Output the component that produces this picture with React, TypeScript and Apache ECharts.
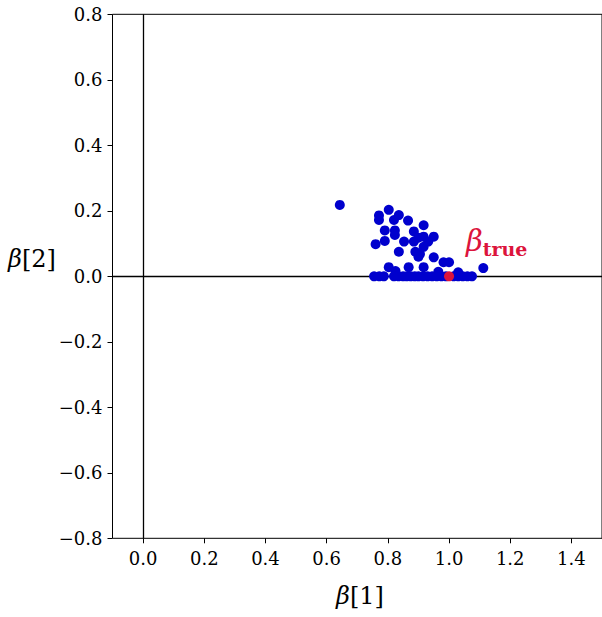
import React, { useEffect, useRef } from "react";
import * as echarts from "echarts";

const sampleX: number[] = [
  0.643, 0.803, 0.771, 0.771, 0.836, 0.82, 0.866, 0.917, 0.79, 0.823, 0.823, 0.885,
  0.917, 0.95, 0.9, 0.79, 0.853, 0.885, 0.932, 0.76, 0.917, 0.836, 0.89, 0.905,
  0.95, 0.9, 0.982, 1.0, 0.803, 0.868, 0.917, 1.112, 0.825, 0.965, 1.03,
  0.755, 0.772, 0.787, 0.82, 0.835, 0.85, 0.862, 0.875, 0.888, 0.9, 0.915, 0.93,
  0.945, 0.96, 0.975, 0.99, 1.015, 1.03, 1.045, 1.06, 1.075,
];
const sampleY: number[] = [
  0.218, 0.203, 0.186, 0.172, 0.187, 0.172, 0.17, 0.156, 0.14, 0.14, 0.126, 0.137,
  0.121, 0.121, 0.118, 0.108, 0.106, 0.106, 0.106, 0.098, 0.09, 0.075, 0.075, 0.068,
  0.058, 0.06, 0.043, 0.043, 0.028, 0.028, 0.028, 0.025, 0.016, 0.014, 0.012,
  0, 0, 0, 0, 0, 0, 0, 0, 0, 0, 0, 0,
  0, 0, 0, 0, 0, 0, 0, 0, 0,
];
const trueBeta: number[] = [1.0, 0.0];
const xRange: number[] = [-0.1, 1.5];
const xTickValues: number[] = [0, 0.2, 0.4, 0.6, 0.8, 1.0, 1.2, 1.4];
const yRange: number[] = [-0.8, 0.8];
const yInterval = 0.2;

const FONT = "DejaVu Serif";
const RED = "#dc143c";

const titleRich = {
  g: { fontFamily: FONT, fontStyle: "italic", fontSize: 24, fill: "#000", color: "#000" },
  n: { fontFamily: FONT, fontSize: 24, fill: "#000", color: "#000" },
};

export default function App() {
  const ref = useRef<HTMLDivElement>(null);
  useEffect(() => {
    if (!ref.current) return;
    const chart = echarts.init(ref.current, null, { renderer: "svg" });
    const pts = sampleX.map((x, i) => [x, sampleY[i]]);
    chart.setOption({
      animation: false,
      backgroundColor: "#ffffff",
      grid: {
        left: 112.5,
        top: 14.3,
        right: -2,
        height: 524,
        show: true,
        borderColor: "#000",
        borderWidth: 1,
        backgroundColor: "transparent",
      },
      xAxis: {
        type: "value",
        min: xRange[0],
        max: xRange[1],
        axisLine: { show: false, onZero: false },
        axisTick: {
          show: true,
          length: 5,
          lineStyle: { color: "#000" },
          customValues: xTickValues,
        },
        splitLine: { show: false },
        axisLabel: {
          margin: 11,
          color: "#000",
          fontFamily: FONT,
          fontSize: 18,
          customValues: xTickValues,
          formatter: (v: number) => v.toFixed(1),
        },
      },
      yAxis: {
        type: "value",
        min: yRange[0],
        max: yRange[1],
        interval: yInterval,
        axisLine: { show: false, onZero: false },
        axisTick: { show: true, length: 5, lineStyle: { color: "#000" } },
        splitLine: { show: false },
        axisLabel: {
          margin: 10,
          color: "#000",
          fontFamily: FONT,
          fontSize: 18,
          formatter: (v: number) => {
            const s = Math.abs(v).toFixed(1);
            return v < -1e-9 ? "\u2212" + s : s;
          },
        },
      },
      series: [
        {
          type: "scatter",
          data: pts,
          symbolSize: 10,
          itemStyle: { color: "#0000cd", opacity: 1 },
          z: 3,
          markLine: {
            silent: true,
            symbol: "none",
            label: { show: false },
            lineStyle: { color: "#000", width: 1.3, type: "solid" },
            data: [{ xAxis: 0 }, { yAxis: 0 }],
            z: 2,
          },
        },
        {
          type: "scatter",
          data: [trueBeta],
          symbolSize: 10,
          itemStyle: { color: RED, opacity: 1 },
          z: 4,
        },
      ],
      graphic: [
        {
          type: "text",
          left: 336,
          top: 584,
          style: {
            text: "{g|β}{n|[1]}",
            fill: "#000",
            rich: titleRich,
          },
        },
        {
          type: "text",
          left: 8,
          top: 247,
          style: {
            text: "{g|β}{n|[2]}",
            fill: "#000",
            rich: titleRich,
          },
        },
        {
          type: "text",
          left: 466,
          top: 226,
          style: {
            text: "{b|β}{s|true}",
            fill: RED,
            rich: {
              b: {
                fontFamily: FONT,
                fontStyle: "italic",
                fontSize: 29,
                fill: RED,
                color: RED,
              },
              s: {
                fontFamily: FONT,
                fontWeight: "bold",
                fontSize: 19,
                fill: RED,
                color: RED,
                verticalAlign: "bottom",
                padding: [16, 0, 0, 0],
              },
            },
          },
        },
      ],
    });
    return () => chart.dispose();
  }, []);
  return (
    <div
      ref={ref}
      style={{ position: "fixed", left: 0, top: 0, width: 602, height: 617 }}
    />
  );
}
